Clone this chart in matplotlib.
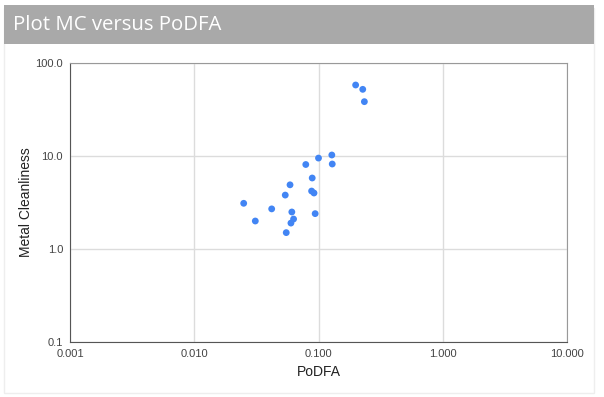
import matplotlib
matplotlib.use("Agg")
import matplotlib.pyplot as plt
from matplotlib.patches import Rectangle
from matplotlib.ticker import FixedLocator, FixedFormatter, NullLocator

# data
podfa = [0.199, 0.227, 0.234, 0.128, 0.100, 0.129, 0.079, 0.089, 0.059, 0.088,
         0.092, 0.054, 0.025, 0.042, 0.094, 0.061, 0.031, 0.063, 0.060, 0.055]
metal_cleanliness = [58.0, 52.1, 38.4, 10.25, 9.5, 8.2, 8.1, 5.8, 4.9, 4.2,
                     4.0, 3.8, 3.1, 2.7, 2.4, 2.5, 2.0, 2.1, 1.9, 1.5]

x_ticks = [0.001, 0.01, 0.1, 1, 10]
x_labels = ["0.001", "0.010", "0.100", "1.000", "10.000"]
y_ticks = [0.1, 1, 10, 100]
y_labels = ["0.1", "1.0", "10.0", "100.0"]

W, H = 604, 397
fig = plt.figure(figsize=(W / 100, H / 100), dpi=100)
fig.patch.set_facecolor("white")

# card border and grey header bar
fig.patches.append(Rectangle((4 / W, 0.01), 590 / W, 0.98 - 4 / H, transform=fig.transFigure,
                             facecolor="white", edgecolor="#eeeeee", lw=1, zorder=0))
fig.patches.append(Rectangle((4 / W, (H - 44) / H), 590 / W, 39 / H, transform=fig.transFigure,
                             facecolor="#a9a9a9", edgecolor="none", zorder=1))
fig.text(13 / W, (H - 25) / H, "Plot MC versus PoDFA", color="white", fontsize=14.7,
         family="Open Sans", va="center", ha="left")

ax = fig.add_axes([70 / W, 55 / H, 497 / W, 279 / H])
ax.set_zorder(5)
ax.set_xscale("log")
ax.set_yscale("log")
ax.set_xlim(0.001, 10)
ax.set_ylim(0.1, 100)

ax.scatter(podfa, metal_cleanliness, s=24, color="#4285f4", edgecolors="none", zorder=3)

ax.xaxis.set_major_locator(FixedLocator(x_ticks))
ax.xaxis.set_major_formatter(FixedFormatter(x_labels))
ax.yaxis.set_major_locator(FixedLocator(y_ticks))
ax.yaxis.set_major_formatter(FixedFormatter(y_labels))
ax.xaxis.set_minor_locator(NullLocator())
ax.yaxis.set_minor_locator(NullLocator())

ax.grid(True, color="#dcdcdc", lw=1)
ax.set_axisbelow(True)
ax.tick_params(length=0, labelsize=8, labelcolor="#444444", pad=5)
for lbl in ax.get_xticklabels() + ax.get_yticklabels():
    lbl.set_family("Liberation Sans")

for side in ["left", "bottom"]:
    ax.spines[side].set_color("#555555")
for side in ["top", "right"]:
    ax.spines[side].set_color("#999999")

ax.set_xlabel("PoDFA", fontsize=10, family="Liberation Sans", color="#222222", labelpad=4)
ax.set_ylabel("Metal Cleanliness", fontsize=10, family="Liberation Sans", color="#222222", labelpad=2)

fig.savefig("out.png", dpi=100)
